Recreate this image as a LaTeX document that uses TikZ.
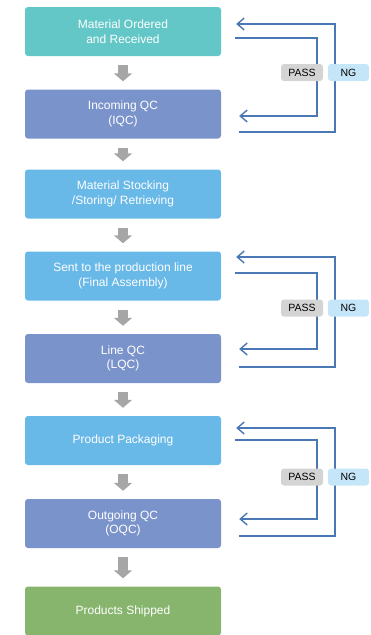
\documentclass[tikz,border=0pt]{standalone}
\usepackage{fontspec}
\setmainfont{Liberation Sans}
\usetikzlibrary{positioning,calc,arrows.meta}
\definecolor{stepteal}{HTML}{63C7C7}
\definecolor{stepindigo}{HTML}{7B93CB}
\definecolor{stepsky}{HTML}{68B8E8}
\definecolor{stepgreen}{HTML}{87B56E}
\definecolor{arrowgray}{HTML}{A6A6A6}
\definecolor{loopblue}{HTML}{4A78B4}
\definecolor{passgray}{HTML}{D4D4D4}
\definecolor{nglight}{HTML}{C5E6F8}

\begin{document}
\begin{tikzpicture}[
        x=1pt, y=-1pt,
        stepbox/.style={rounded corners=3pt, minimum width=196pt, minimum height=49pt, text=white, align=center, font=\fontsize{12}{14.5}\selectfont},
        flowarrow/.style={draw=arrowgray, line width=10pt, -{Triangle[width=18pt,length=8pt]}},
        loopline/.style={draw=loopblue, line width=1.4pt},
        tag/.style={rounded corners=3pt, minimum width=42pt, minimum height=17pt, inner sep=0pt, font=\fontsize{10.5}{12}\selectfont}
    ]
    \useasboundingbox (0,0) rectangle (370,635);

    % Process steps
    \node[stepbox, fill=stepteal] (ordered) at (123,31.5) {Material Ordered\\and Received};
    \node[stepbox, fill=stepindigo] (iqc) at (123,114) {Incoming QC\\(IQC)};
    \node[stepbox, fill=stepsky] (stocking) at (123,194) {Material Stocking\\/Storing/ Retrieving};
    \node[stepbox, fill=stepsky] (assembly) at (123,276) {Sent to the production line\\(Final Assembly)};
    \node[stepbox, fill=stepindigo] (lqc) at (123,358.5) {Line QC\\(LQC)};
    \node[stepbox, fill=stepsky] (packaging) at (123,440.5) {Product Packaging};
    \node[stepbox, fill=stepindigo] (oqc) at (123,523.5) {Outgoing QC\\(OQC)};
    \node[stepbox, fill=stepgreen] (shipped) at (123,611) {Products Shipped};

    % Arrows between steps
    \draw[flowarrow] ([yshift=-9pt]ordered.south) -- ([yshift=8pt]iqc.north);
    \draw[flowarrow] ([yshift=-9pt]iqc.south) -- ([yshift=8pt]stocking.north);
    \draw[flowarrow] ([yshift=-9pt]stocking.south) -- ([yshift=8pt]assembly.north);
    \draw[flowarrow] ([yshift=-9pt]assembly.south) -- ([yshift=8pt]lqc.north);
    \draw[flowarrow] ([yshift=-9pt]lqc.south) -- ([yshift=8pt]packaging.north);
    \draw[flowarrow] ([yshift=-9pt]packaging.south) -- ([yshift=8pt]oqc.north);
    \draw[flowarrow] ([yshift=-9pt]oqc.south) -- ([yshift=8pt]shipped.north);

    % Loop corners
    \coordinate (pass1) at (317,72.5);
    \coordinate (ng1) at (335,72.5);
    \coordinate (pass2) at (317,308);
    \coordinate (ng2) at (335,308);
    \coordinate (pass3) at (317,477);
    \coordinate (ng3) at (335,477);

    % IQC loop
    \draw[loopline, -{Straight Barb[length=7pt,width=12pt]}] ($(ordered.east)+(14,6.5)$) -| (pass1) |- ($(iqc.east)+(18,2)$);
    \draw[loopline, {Straight Barb[length=7pt,width=12pt]}-] ($(ordered.east)+(15,-7.5)$) -| (ng1) |- ($(iqc.east)+(18,18)$);

    % LQC loop
    \draw[loopline, -{Straight Barb[length=7pt,width=12pt]}] ($(assembly.east)+(14,-3)$) -| (pass2) |- ($(lqc.east)+(18,-9.5)$);
    \draw[loopline, {Straight Barb[length=7pt,width=12pt]}-] ($(assembly.east)+(15,-19)$) -| (ng2) |- ($(lqc.east)+(18,8.5)$);

    % OQC loop
    \draw[loopline, -{Straight Barb[length=7pt,width=12pt]}] ($(packaging.east)+(14,-0.5)$) -| (pass3) |- ($(oqc.east)+(18,-4.5)$);
    \draw[loopline, {Straight Barb[length=7pt,width=12pt]}-] ($(packaging.east)+(15,-12.5)$) -| (ng3) |- ($(oqc.east)+(18,12.5)$);

    % Result tags
    \node[tag, fill=passgray] (passtag1) at (302,72.5) {PASS};
    \node[tag, fill=nglight, minimum width=41pt] (ngtag1) at (348.5,72.5) {NG};
    \node[tag, fill=passgray] (passtag2) at (302,308) {PASS};
    \node[tag, fill=nglight, minimum width=41pt] (ngtag2) at (348.5,308) {NG};
    \node[tag, fill=passgray] (passtag3) at (302,477) {PASS};
    \node[tag, fill=nglight, minimum width=41pt] (ngtag3) at (348.5,477) {NG};

\end{tikzpicture}
\end{document}
